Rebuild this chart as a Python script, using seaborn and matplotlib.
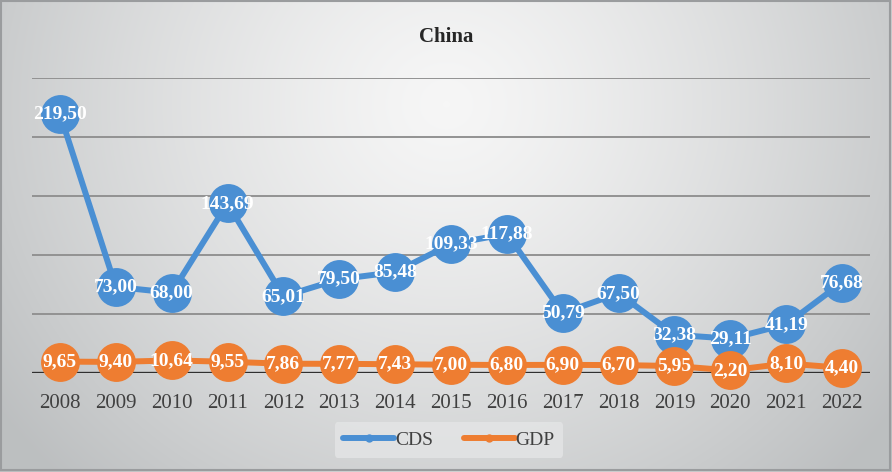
import numpy as np
import pandas as pd
import matplotlib
matplotlib.use("Agg")
import matplotlib.pyplot as plt
from matplotlib.lines import Line2D
from matplotlib.patches import Rectangle
import seaborn as sns

years = ["2008", "2009", "2010", "2011", "2012", "2013", "2014", "2015",
         "2016", "2017", "2018", "2019", "2020", "2021", "2022"]
cds = [219.50, 73.00, 68.00, 143.69, 65.01, 79.50, 85.48, 109.33,
       117.88, 50.79, 67.50, 32.38, 29.11, 41.19, 76.68]
gdp = [9.65, 9.40, 10.64, 9.55, 7.86, 7.77, 7.43, 7.00,
       6.80, 6.90, 6.70, 5.95, 2.20, 8.10, 4.40]
series_names = ["CDS", "GDP"]
colors = {"CDS": "#4a8fd3", "GDP": "#ee7d31"}

df = pd.DataFrame({
    "idx": list(range(len(years))) * 2,
    "value": cds + gdp,
    "series": ["CDS"] * len(years) + ["GDP"] * len(years),
})

sns.set_style("white")
plt.rcParams["font.family"] = ["Liberation Serif", "DejaVu Serif"]

W, H = 892, 472
fig = plt.figure(figsize=(W / 100, H / 100), dpi=100)

# background gradient
bg = fig.add_axes([0, 0, 1, 1], zorder=-10)
yy, xx = np.mgrid[0:H, 0:W]
cx, cy = W * 0.5, H * 0.22
r = np.sqrt(((xx - cx) / (W * 0.62)) ** 2 + ((yy - cy) / (H * 1.1)) ** 2)
r = np.clip(r, 0, 1)
light = np.array([0.965, 0.965, 0.965])
dark = np.array([0.74, 0.75, 0.755])
img = light[None, None, :] * (1 - r[..., None] ** 1.3) + dark[None, None, :] * (r[..., None] ** 1.3)
bg.imshow(img, extent=[0, W, H, 0], aspect="auto")
bg.set_xlim(0, W)
bg.set_ylim(H, 0)
bg.axis("off")
bg.add_patch(Rectangle((1, 1), W - 3, H - 3, fill=False, edgecolor="#9a9c9e", linewidth=1.5))

ax = fig.add_axes([32 / W, (H - 373) / H, (870 - 32) / W, (373 - 78) / H])
ax.set_facecolor("none")

sns.lineplot(data=df, x="idx", y="value", hue="series", palette=colors,
             marker="o", markersize=28, markeredgewidth=0, linewidth=4.3,
             ax=ax, legend=False, zorder=3)
for ln in ax.lines:
    ln.set_clip_on(False)

for yv in [50, 100, 150, 200, 250]:
    ax.axhline(yv, color="#929292", linewidth=1.4, zorder=1)
ax.axhline(0, color="#303030", linewidth=2.4, zorder=2)

for name, vals in zip(series_names, [cds, gdp]):
    for i, v in enumerate(vals):
        ax.text(i, v, f"{v:.2f}".replace(".", ","), ha="center", va="center",
                color="white", fontsize=14, fontweight="bold", zorder=5)

ax.set_xlim(-0.5, len(years) - 0.5)
ax.set_ylim(0, 250)
ax.set_xticks(range(len(years)))
ax.set_xticklabels(years, fontsize=15, color="#404040")
ax.tick_params(axis="x", length=0, pad=15)
ax.set_yticks([])
ax.set_xlabel("")
ax.set_ylabel("")
for s in ax.spines.values():
    s.set_visible(False)

fig.text(0.5, (H - 37) / H, "China", ha="center", va="center",
         fontsize=15, fontweight="bold", color="#262626")

handles = [Line2D([0], [0], color=colors[n], linewidth=4.3, marker="o",
                  markersize=6, markeredgewidth=0) for n in series_names]
leg = fig.legend(handles, series_names, loc="center", bbox_to_anchor=(449 / W, (H - 440) / H),
                 ncol=2, frameon=True, fontsize=14, handlelength=2.6, columnspacing=1.6,
                 handletextpad=0.05, borderpad=0.45)
leg.get_frame().set_facecolor("#e4e5e6")
leg.get_frame().set_edgecolor("none")
leg.get_frame().set_alpha(0.8)
for t in leg.get_texts():
    t.set_color("#404040")

fig.savefig("out.png", dpi=100)
